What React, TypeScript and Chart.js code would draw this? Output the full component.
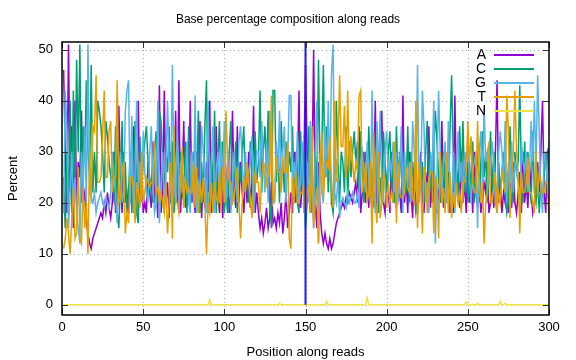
import { useEffect, useRef } from "react";
import { Chart, registerables } from "chart.js";
Chart.register(...registerables);

const POSITIONS: number[] = Array.from({ length: 300 }, (_, i) => i + 1);

const A_VALUES = [
  46, 30, 18, 51, 22, 35, 15, 40, 20, 28,
  25, 38, 20, 22, 16, 14, 12, 11, 13, 14,
  15, 16, 17, 18, 17, 20, 18, 22, 19, 17,
  20, 30, 18, 22, 39, 25, 18, 30, 20, 22,
  18, 25, 20, 35, 22, 18, 40, 20, 28, 18,
  20, 18, 28, 22, 19, 32, 20, 24, 17, 43,
  18, 22, 42, 20, 24, 17, 30, 18, 22, 38,
  20, 44, 18, 25, 36, 19, 28, 22, 40, 20,
  22, 18, 30, 20, 36, 17, 25, 19, 28, 22,
  40, 18, 25, 20, 35, 22, 18, 30, 17, 26,
  20, 28, 18, 22, 38, 24, 19, 35, 20, 28,
  22, 18, 26, 20, 30, 19, 24, 39, 18, 22,
  18, 15, 17, 14, 16, 19, 15, 17, 24, 16,
  17, 15, 18, 16, 20, 14, 17, 22, 15, 18,
  22, 18, 30, 20, 26, 42, 19, 24, 28, 47,
  30, 22, 18, 25, 50, 20, 15, 28, 18, 14,
  12, 14, 12, 11, 13, 11, 12, 14, 16, 17,
  18, 19, 20, 19, 21, 20, 22, 21, 20, 22,
  24, 20, 35, 18, 22, 30, 20, 26, 19, 28,
  20, 24, 40, 18, 26, 30, 38, 20, 18, 25,
  22, 18, 30, 20, 26, 19, 28, 22, 18, 41,
  20, 25, 18, 30, 22, 17, 28, 20, 18, 24,
  30, 20, 18, 26, 22, 35, 19, 28, 20, 25,
  18, 22, 20, 36, 19, 28, 22, 26, 18, 20,
  18, 41, 22, 26, 19, 30, 20, 24, 18, 28,
  20, 25, 18, 30, 22, 19, 26, 18, 20, 24,
  22, 28, 18, 20, 26, 19, 30, 44, 20, 24,
  18, 22, 20, 26, 18, 24, 19, 28, 20, 18,
  22, 26, 18, 30, 20, 24, 19, 28, 22, 18,
  20, 24, 28, 22, 30, 40, 22, 18, 30, 31,
];

const C_VALUES = [
  25, 15, 30, 20, 40, 18, 42, 22, 48, 30,
  51, 20, 35, 28, 44, 30, 25, 47, 22, 30,
  22, 40, 38, 35, 30, 22, 36, 33, 28, 25,
  28, 20, 35, 18, 15, 24, 36, 20, 28, 18,
  22, 30, 18, 24, 36, 18, 16, 33, 22, 28,
  32, 35, 28, 25, 22, 20, 30, 34, 20, 38,
  36, 28, 22, 30, 26, 35, 20, 32, 18, 22,
  25, 18, 30, 22, 20, 32, 18, 35, 20, 28,
  30, 22, 25, 38, 18, 28, 20, 35, 44, 18,
  20, 30, 22, 38, 18, 28, 36, 20, 32, 18,
  22, 18, 30, 36, 20, 25, 32, 18, 28, 24,
  30, 35, 22, 28, 20, 32, 26, 20, 34, 24,
  28, 42, 22, 30, 35, 26, 38, 20, 15, 42,
  42, 24, 30, 20, 36, 28, 22, 32, 25, 30,
  26, 35, 22, 30, 20, 18, 34, 22, 30, 15,
  20, 35, 28, 18, 20, 30, 22, 48, 25, 30,
  47, 25, 35, 22, 30, 20, 18, 24, 40, 28,
  20, 30, 28, 22, 35, 20, 32, 25, 30, 34,
  28, 32, 22, 34, 26, 20, 30, 22, 35, 24,
  26, 20, 22, 30, 18, 25, 20, 34, 28, 22,
  30, 34, 22, 28, 20, 35, 24, 30, 26, 20,
  28, 22, 35, 20, 30, 26, 22, 18, 20, 28,
  22, 28, 20, 30, 36, 22, 25, 20, 30, 38,
  32, 25, 20, 24, 30, 22, 28, 20, 34, 45,
  30, 22, 28, 20, 35, 24, 36, 22, 30, 20,
  28, 22, 32, 20, 26, 30, 20, 28, 34, 25,
  30, 20, 26, 34, 22, 30, 24, 20, 28, 22,
  26, 30, 22, 18, 20, 35, 24, 20, 30, 26,
  28, 43, 24, 20, 32, 22, 30, 24, 20, 34,
  22, 20, 26, 18, 24, 20, 26, 30, 22, 20,
];

const G_VALUES = [
  18, 42, 35, 15, 22, 30, 20, 25, 18, 15,
  12, 30, 22, 35, 20, 51, 22, 21, 20, 22,
  18, 20, 21, 22, 20, 19, 21, 20, 19, 22,
  30, 25, 22, 16, 26, 30, 20, 22, 38, 42,
  44, 20, 37, 18, 26, 40, 22, 28, 20, 34,
  26, 22, 20, 30, 35, 24, 18, 20, 40, 16,
  24, 30, 18, 26, 40, 28, 22, 47, 25, 20,
  35, 20, 28, 22, 25, 24, 32, 20, 18, 30,
  20, 41, 18, 24, 22, 35, 30, 26, 18, 40,
  22, 28, 35, 18, 26, 30, 20, 32, 24, 36,
  20, 26, 28, 18, 22, 30, 25, 20, 32, 35,
  28, 22, 30, 24, 26, 28, 33, 18, 22, 30,
  30, 25, 36, 28, 22, 32, 20, 38, 30, 22,
  20, 32, 26, 38, 22, 30, 35, 20, 28, 41,
  41, 22, 28, 24, 34, 20, 25, 32, 18, 20,
  28, 20, 36, 22, 15, 30, 40, 12, 30, 22,
  20, 35, 25, 40, 24, 45, 51, 22, 20, 25,
  17, 20, 21, 20, 19, 22, 20, 21, 22, 20,
  20, 22, 19, 28, 30, 26, 22, 32, 24, 20,
  42, 22, 18, 36, 26, 38, 22, 20, 30, 34,
  24, 28, 26, 32, 22, 30, 20, 26, 35, 18,
  30, 26, 24, 28, 20, 36, 30, 22, 47, 20,
  24, 42, 35, 20, 24, 18, 30, 26, 40, 12,
  26, 42, 30, 20, 28, 32, 20, 36, 22, 18,
  30, 18, 26, 34, 24, 28, 20, 30, 26, 32,
  24, 20, 26, 28, 30, 15, 30, 34, 22, 39,
  28, 30, 24, 26, 32, 28, 20, 18, 30, 34,
  30, 24, 36, 20, 28, 24, 32, 22, 28, 26,
  24, 18, 32, 28, 26, 30, 22, 26, 36, 28,
  40, 26, 45, 34, 22, 18, 30, 28, 24, 32,
];

const T_VALUES = [
  11, 13, 17, 14, 10, 17, 23, 13, 14, 27,
  13, 12, 23, 15, 20, 10, 30, 20, 35, 34,
  45, 24, 24, 25, 33, 42, 25, 25, 34, 36,
  22, 25, 25, 44, 20, 21, 26, 28, 14, 18,
  16, 25, 25, 23, 16, 24, 22, 19, 30, 20,
  22, 25, 24, 23, 24, 24, 32, 22, 23, 20,
  22, 20, 18, 24, 14, 20, 28, 13, 35, 20,
  20, 18, 24, 31, 19, 25, 22, 23, 22, 22,
  28, 19, 27, 18, 24, 20, 25, 20, 10, 20,
  18, 24, 18, 24, 21, 20, 26, 18, 27, 20,
  38, 28, 24, 24, 20, 21, 24, 27, 20, 13,
  20, 25, 22, 28, 24, 21, 17, 23, 26, 24,
  24, 18, 25, 28, 27, 23, 27, 25, 41, 20,
  21, 29, 26, 26, 22, 28, 26, 26, 32, 13,
  11, 25, 20, 26, 20, 20, 22, 22, 24, 18,
  22, 23, 18, 35, 15, 20, 23, 12, 27, 34,
  21, 26, 28, 27, 33, 24, 19, 40, 24, 30,
  45, 31, 31, 39, 25, 42, 26, 33, 28, 24,
  28, 26, 41, 42, 22, 24, 28, 20, 22, 28,
  12, 34, 20, 16, 30, 17, 20, 26, 24, 19,
  24, 20, 22, 20, 32, 16, 28, 22, 21, 21,
  22, 27, 23, 22, 28, 21, 20, 40, 15, 28,
  24, 14, 27, 24, 18, 25, 26, 26, 14, 25,
  24, 13, 30, 20, 23, 18, 30, 18, 26, 17,
  22, 19, 24, 20, 22, 18, 24, 24, 26, 36,
  28, 33, 24, 22, 22, 36, 24, 20, 24, 12,
  20, 22, 32, 20, 20, 23, 26, 18, 22, 20,
  26, 24, 22, 41, 34, 17, 25, 30, 42, 30,
  26, 14, 26, 22, 22, 24, 29, 22, 22, 20,
  18, 30, 21, 26, 24, 22, 22, 24, 24, 17,
];

// N is 0 everywhere except these small bumps [position, percent]
const N_BUMPS: [number, number][] = [
  [91, 1.0], [134, 0.3], [163, 0.7], [188, 1.4],
  [249, 0.6], [256, 0.3], [270, 0.7], [273, 0.3],
];
const N_VALUES: number[] = POSITIONS.map((p) => {
  const b = N_BUMPS.find((e) => e[0] === p);
  return b ? b[1] : 0;
});

const SERIES_LABELS = ["A", "C", "G", "T", "N"];
const SERIES_COLORS = ["#9400D3", "#009E73", "#56B4E9", "#E69F00", "#F0E442"];
const X_TICKS = [0, 50, 100, 150, 200, 250, 300];
const Y_TICKS = [0, 10, 20, 30, 40, 50];
const MARKER_POSITION = 150;
const MARKER_RANGE = [0, 51.5];
const TITLE = "Base percentage composition along reads";
const X_TITLE = "Position along reads";
const Y_TITLE = "Percent";

const FONT = "'Liberation Sans', Arial, sans-serif";

const framePlugin = {
  id: "gnuframe",
  beforeDatasetsDraw(chart: any) {
    const { ctx, chartArea, scales } = chart;
    const { left, right, top, bottom } = chartArea;
    ctx.save();
    ctx.strokeStyle = "#b0b0b0";
    ctx.lineWidth = 1;
    ctx.setLineDash([1, 3]);
    X_TICKS.forEach((v) => {
      const px = Math.round(scales.x.getPixelForValue(v)) + 0.5;
      if (px > left + 2 && px < right - 2) {
        ctx.beginPath();
        ctx.moveTo(px, top);
        ctx.lineTo(px, bottom);
        ctx.stroke();
      }
    });
    Y_TICKS.forEach((v) => {
      const py = Math.round(scales.y.getPixelForValue(v)) + 0.5;
      if (py > top + 2 && py < bottom - 2) {
        ctx.beginPath();
        ctx.moveTo(left, py);
        ctx.lineTo(right, py);
        ctx.stroke();
      }
    });
    ctx.restore();
  },
  afterDatasetsDraw(chart: any) {
    const { ctx, chartArea, scales } = chart;
    const { left, right, top, bottom } = chartArea;
    ctx.save();
    // ticks (inward, mirrored)
    ctx.strokeStyle = "#333";
    ctx.lineWidth = 1;
    const tl = 6;
    X_TICKS.forEach((v) => {
      const px = Math.round(scales.x.getPixelForValue(v)) + 0.5;
      ctx.beginPath();
      ctx.moveTo(px, bottom);
      ctx.lineTo(px, bottom - tl);
      ctx.moveTo(px, top);
      ctx.lineTo(px, top + tl);
      ctx.stroke();
    });
    Y_TICKS.forEach((v) => {
      const py = Math.round(scales.y.getPixelForValue(v)) + 0.5;
      ctx.beginPath();
      ctx.moveTo(left, py);
      ctx.lineTo(left + tl, py);
      ctx.moveTo(right, py);
      ctx.lineTo(right - tl, py);
      ctx.stroke();
    });
    // border
    ctx.strokeStyle = "#000";
    ctx.lineWidth = 1.5;
    ctx.strokeRect(left, top, right - left, bottom - top);
    // legend
    ctx.font = `14px ${FONT}`;
    ctx.textAlign = "right";
    ctx.textBaseline = "middle";
    SERIES_LABELS.forEach((lab, i) => {
      const y = 55 + i * 14;
      ctx.fillStyle = "#000";
      ctx.fillText(lab, 486, y);
      ctx.strokeStyle = SERIES_COLORS[i];
      ctx.lineWidth = 2;
      ctx.beginPath();
      ctx.moveTo(494, y);
      ctx.lineTo(534, y);
      ctx.stroke();
    });
    // title (centred on the canvas, gnuplot style)
    ctx.font = `12px ${FONT}`;
    ctx.textAlign = "center";
    ctx.fillStyle = "#000";
    ctx.fillText(TITLE, chart.width / 2, 20);
    ctx.restore();
  },
};

export default function App() {
  const ref = useRef<HTMLCanvasElement>(null);
  useEffect(() => {
    const toXY = (vals: number[]) => vals.map((v, i) => ({ x: POSITIONS[i], y: v }));
    const allValues = [A_VALUES, C_VALUES, G_VALUES, T_VALUES, N_VALUES];
    const datasets: any[] = allValues.map((vals, i) => ({
      label: SERIES_LABELS[i],
      data: toXY(vals),
      borderColor: SERIES_COLORS[i],
      borderWidth: 1.5,
      pointRadius: 0,
      tension: 0,
      fill: false,
      order: 10 - i,
    }));
    datasets.push({
      label: "marker",
      data: MARKER_RANGE.map((y) => ({ x: MARKER_POSITION, y })),
      borderColor: "#1a1aff",
      borderWidth: 2,
      pointRadius: 0,
      fill: false,
      order: 0,
    });
    const tickFont = { family: FONT, size: 13 };
    const chart = new Chart(ref.current as HTMLCanvasElement, {
      type: "line",
      data: { datasets },
      options: {
        animation: false,
        responsive: false,
        layout: { padding: { left: 0, right: 27, top: 42, bottom: 0 } },
        plugins: {
          legend: { display: false },
          tooltip: { enabled: false },
          title: { display: false },
        },
        scales: {
          x: {
            type: "linear",
            min: 0,
            max: 300,
            afterBuildTicks: (s: any) => {
              s.ticks = X_TICKS.map((v) => ({ value: v }));
            },
            afterFit: (s: any) => {
              s.height = 45;
            },
            grid: { display: false, drawTicks: false, tickLength: 0 },
            border: { display: false },
            ticks: { font: tickFont, color: "#000", padding: 5, maxRotation: 0 },
            title: {
              display: true,
              text: X_TITLE,
              font: tickFont,
              color: "#000",
              padding: { top: 6, bottom: 0 },
            },
          },
          y: {
            type: "linear",
            min: -2,
            max: 51.5,
            afterBuildTicks: (s: any) => {
              s.ticks = Y_TICKS.map((v) => ({ value: v }));
            },
            afterFit: (s: any) => {
              s.width = 62;
            },
            grid: { display: false, drawTicks: false, tickLength: 0 },
            border: { display: false },
            ticks: { font: tickFont, color: "#000", padding: 9 },
            title: {
              display: true,
              text: Y_TITLE,
              font: tickFont,
              color: "#000",
              padding: { top: 6, bottom: 0 },
            },
          },
        },
      },
      plugins: [framePlugin],
    } as any);
    return () => chart.destroy();
  }, []);
  return (
    <canvas
      ref={ref}
      width={576}
      height={360}
      style={{ position: "absolute", left: 0, top: 0, width: 576, height: 360 }}
    />
  );
}
